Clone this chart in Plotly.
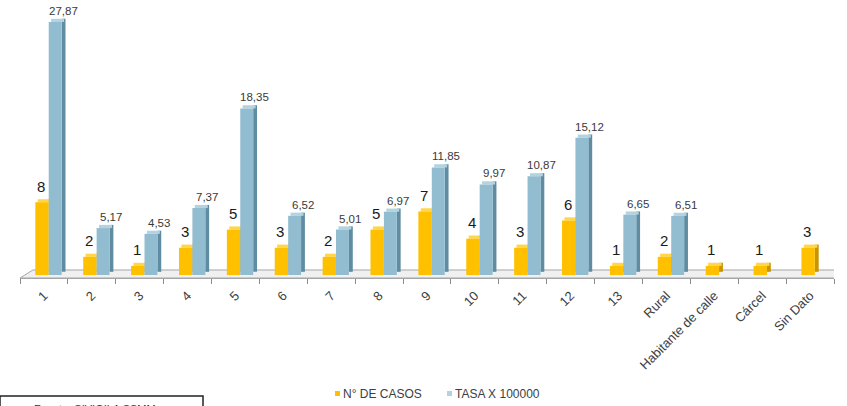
import plotly.graph_objects as go

categories = ["1", "2", "3", "4", "5", "6", "7", "8", "9", "10", "11", "12", "13",
              "Rural", "Habitante de calle", "Cárcel", "Sin Dato"]
casos = [8, 2, 1, 3, 5, 3, 2, 5, 7, 4, 3, 6, 1, 2, 1, 1, 3]
tasa = [27.87, 5.17, 4.53, 7.37, 18.35, 6.52, 5.01, 6.97, 11.85, 9.97, 10.87, 15.12,
        6.65, 6.51, None, None, None]
series_names = ["N° DE CASOS", "TASA X 100000"]
source_text = "Fuente: SIVIGILA SSMM"

x = list(range(len(categories)))
n = len(categories)
DEPTH = 0.35  # pseudo-3D depth in value units

ORANGE, ORANGE_SIDE, ORANGE_TOP = "#FFC000", "#C99400", "#FFD54A"
BLUE, BLUE_SIDE, BLUE_TOP = "#92BDD1", "#5F8CA1", "#B3D3E1"

# pixel helpers for the plot area (l=20, width 814; t=0, height 278)
L, PW, PH = 20, 814, 278
def px(xp):
    return (xp - L) / PW
def py(yp):
    return (PH - yp) / PH

fig = go.Figure()


def add_3d_bars(vals, name, off, w, front, side, top):
    xs = [i for i, v in zip(x, vals) if v is not None]
    vs = [v for v in vals if v is not None]
    fig.add_trace(go.Bar(x=xs, y=vs, base=[DEPTH] * len(vs), offset=off + w, width=0.08,
                         marker=dict(color=side, line=dict(width=0)), showlegend=False,
                         hoverinfo="skip"))
    fig.add_trace(go.Bar(x=xs, y=[DEPTH] * len(vs), base=vs, offset=off + 0.05, width=w,
                         marker=dict(color=top, line=dict(width=0)), showlegend=False,
                         hoverinfo="skip"))
    fig.add_trace(go.Bar(x=xs, y=vs, offset=off, width=w, name=name, showlegend=False,
                         marker=dict(color=front, line=dict(width=0))))


add_3d_bars(casos, series_names[0], -0.18, 0.28, ORANGE, ORANGE_SIDE, ORANGE_TOP)
add_3d_bars(tasa, series_names[1], 0.10, 0.27, BLUE, BLUE_SIDE, BLUE_TOP)

annotations = []
for i, v in zip(x, casos):
    annotations.append(dict(x=i - 0.06, y=v, xref="x", yref="y", text=str(v),
                            showarrow=False, yshift=16,
                            font=dict(size=15, color="#1a1a1a", family="Liberation Sans")))
for i, v in zip(x, tasa):
    if v is None:
        continue
    annotations.append(dict(x=i + 0.40, y=v, xref="x", yref="y",
                            text=f"{v:.2f}".replace(".", ","),
                            showarrow=False, yshift=11,
                            font=dict(size=11.5, color="#3a3a3a", family="Liberation Sans")))

# manual legend (small squares close to text, as in the reference)
legend_items = [(series_names[0], ORANGE, 335), (series_names[1], BLUE_TOP, 447)]
shapes = []
for name, col, x0 in legend_items:
    shapes.append(dict(type="rect", xref="paper", yref="paper",
                       x0=px(x0), x1=px(x0 + 5), y0=py(396), y1=py(391),
                       fillcolor=col, line=dict(width=0)))
    annotations.append(dict(x=px(x0 + 6), y=py(393.5), xref="paper", yref="paper",
                            xanchor="left", yanchor="middle", text=name, showarrow=False,
                            font=dict(size=12, color="#404040", family="Liberation Sans")))

# partially visible source box
annotations.append(dict(x=px(95), y=py(401), xref="paper", yref="paper", xanchor="center",
                        yanchor="top", text=source_text, showarrow=False,
                        font=dict(size=11, color="#333", family="Liberation Sans")))

shapes += [
    dict(type="path", xref="x", yref="paper", layer="below",
         path=f"M -0.5 0 L -0.23 0.0288 L {n - 0.5 + 0.27} 0.0288 L {n - 0.5} 0 Z",
         fillcolor="#F0F0F0", line=dict(color="#A6A6A6", width=1)),
    dict(type="rect", xref="paper", yref="paper",
         x0=px(0), x1=px(203), y0=py(396), y1=py(440),
         line=dict(color="#222", width=1.5), fillcolor="rgba(0,0,0,0)"),
]

fig.update_layout(
    width=847, height=406,
    margin=dict(l=L, r=847 - L - PW, t=0, b=406 - PH),
    paper_bgcolor="white", plot_bgcolor="white",
    barmode="overlay",
    showlegend=False,
    font=dict(family="Liberation Sans", color="#404040"),
    xaxis=dict(range=[-0.5, n - 0.5], tickmode="array", tickvals=x, ticktext=categories,
               tickangle=-45, ticks="", showgrid=False, zeroline=False,
               showline=True, linecolor="#A6A6A6", linewidth=1,
               ticklabelstandoff=4,
               tickfont=dict(size=13, color="#404040"),
               minor=dict(tickmode="array", tickvals=[i - 0.5 for i in range(n + 1)],
                          ticks="outside", ticklen=5, tickcolor="#8C8C8C", showgrid=False)),
    yaxis=dict(range=[-0.33, 30.29], visible=False),
    annotations=annotations,
    shapes=shapes,
)

fig.write_html("out.html", config={"displayModeBar": False},
               post_script="document.body.style.margin='0';")
